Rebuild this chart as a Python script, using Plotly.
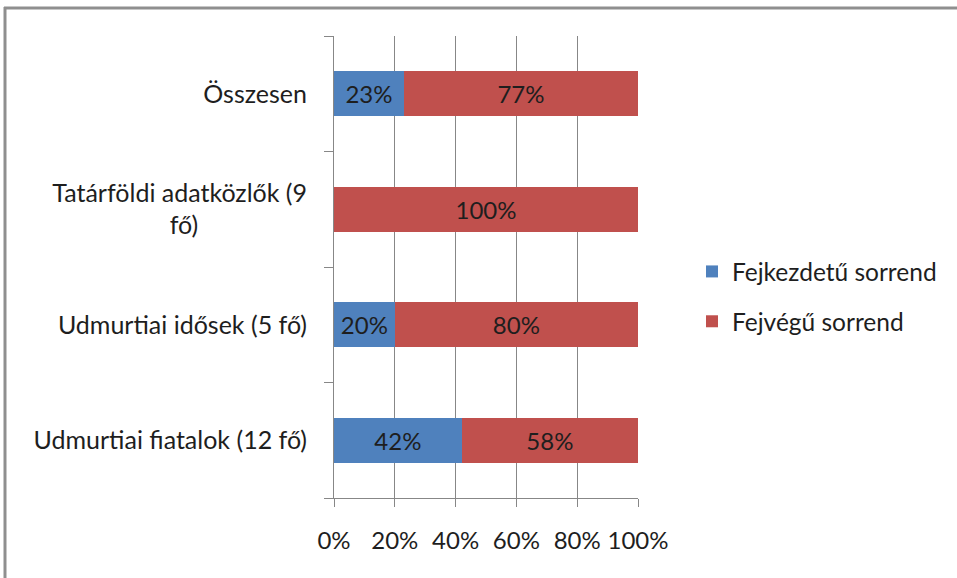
import plotly.graph_objects as go

categories = [
    "Udmurtiai fiatalok (12 fő)",
    "Udmurtiai idősek (5 fő)",
    "Tatárföldi adatközlők (9 fő)",
    "Összesen",
]
tick_labels = [
    "Udmurtiai fiatalok (12 fő)",
    "Udmurtiai idősek (5 fő)",
    "Tatárföldi adatközlők (9<br>fő)" + "\u00a0" * 17,
    "Összesen",
]
fejkezdetu = [42, 20, 0, 23]
fejvegu = [58, 80, 100, 77]
x_ticks = [0, 20, 40, 60, 80, 100]

FONT = "Lato"
TXT = "#1e1e1e"
GRID = "#878787"

W, H = 957, 578
L, R, T, B = 334, 638, 36, 498

def px_x(p):
    return (p - L) / (R - L)

def px_y(p):
    return (B - p) / (B - T)

fig = go.Figure()
for name, vals, col in [("Fejkezdetű sorrend", fejkezdetu, "#4F81BD"),
                        ("Fejvégű sorrend", fejvegu, "#C0504D")]:
    fig.add_trace(go.Bar(
        y=categories, x=vals, orientation="h", name=name,
        marker=dict(color=col, line=dict(width=0)),
        text=[f"{v}%" if v else "" for v in vals],
        textposition="inside", insidetextanchor="middle",
        textfont=dict(family=FONT, size=24, color=TXT),
        legendgroup=name, hoverinfo="skip",
    ))

fig.update_layout(
    width=W, height=H,
    margin=dict(l=L, r=W - R, t=T, b=H - B, pad=0),
    paper_bgcolor="white", plot_bgcolor="white",
    barmode="stack", bargap=0.61,
    showlegend=True,
    legend=dict(
        x=px_x(692), xanchor="left", y=px_y(296.5), yanchor="middle",
        traceorder="grouped", tracegroupgap=15,
        font=dict(family=FONT, size=24.5, color=TXT),
        bgcolor="rgba(0,0,0,0)",
    ),
    font=dict(family=FONT, size=24, color=TXT),
    xaxis=dict(
        range=[0, 100], tickvals=x_ticks, ticktext=[f"{v}%" for v in x_ticks],
        showgrid=True, gridcolor=GRID, gridwidth=1,
        showline=True, linecolor=GRID, linewidth=1,
        ticks="outside", ticklen=8, tickcolor=GRID,
        zeroline=False, tickfont=dict(family=FONT, size=24, color=TXT),
        ticklabelstandoff=13,
    ),
    yaxis=dict(
        categoryorder="array", categoryarray=categories,
        tickvals=categories, ticktext=tick_labels,
        showline=True, linecolor=GRID, linewidth=1,
        ticks="outside", ticklen=9, tickcolor=GRID, tickson="boundaries",
        showgrid=False, zeroline=False,
        tickfont=dict(family=FONT, size=25, color=TXT),
        ticklabelstandoff=21,
    ),
    shapes=[
        dict(type="line", xref="paper", yref="paper",
             x0=px_x(4), x1=px_x(990), y0=px_y(8), y1=px_y(8),
             line=dict(color="#8f8f8f", width=3)),
        dict(type="line", xref="paper", yref="paper",
             x0=px_x(5), x1=px_x(5), y0=px_y(7), y1=px_y(600),
             line=dict(color="#8f8f8f", width=3)),
    ],
)

fig.write_html("out.html", config={"displayModeBar": False},
               post_script="document.body.style.margin='0';")
